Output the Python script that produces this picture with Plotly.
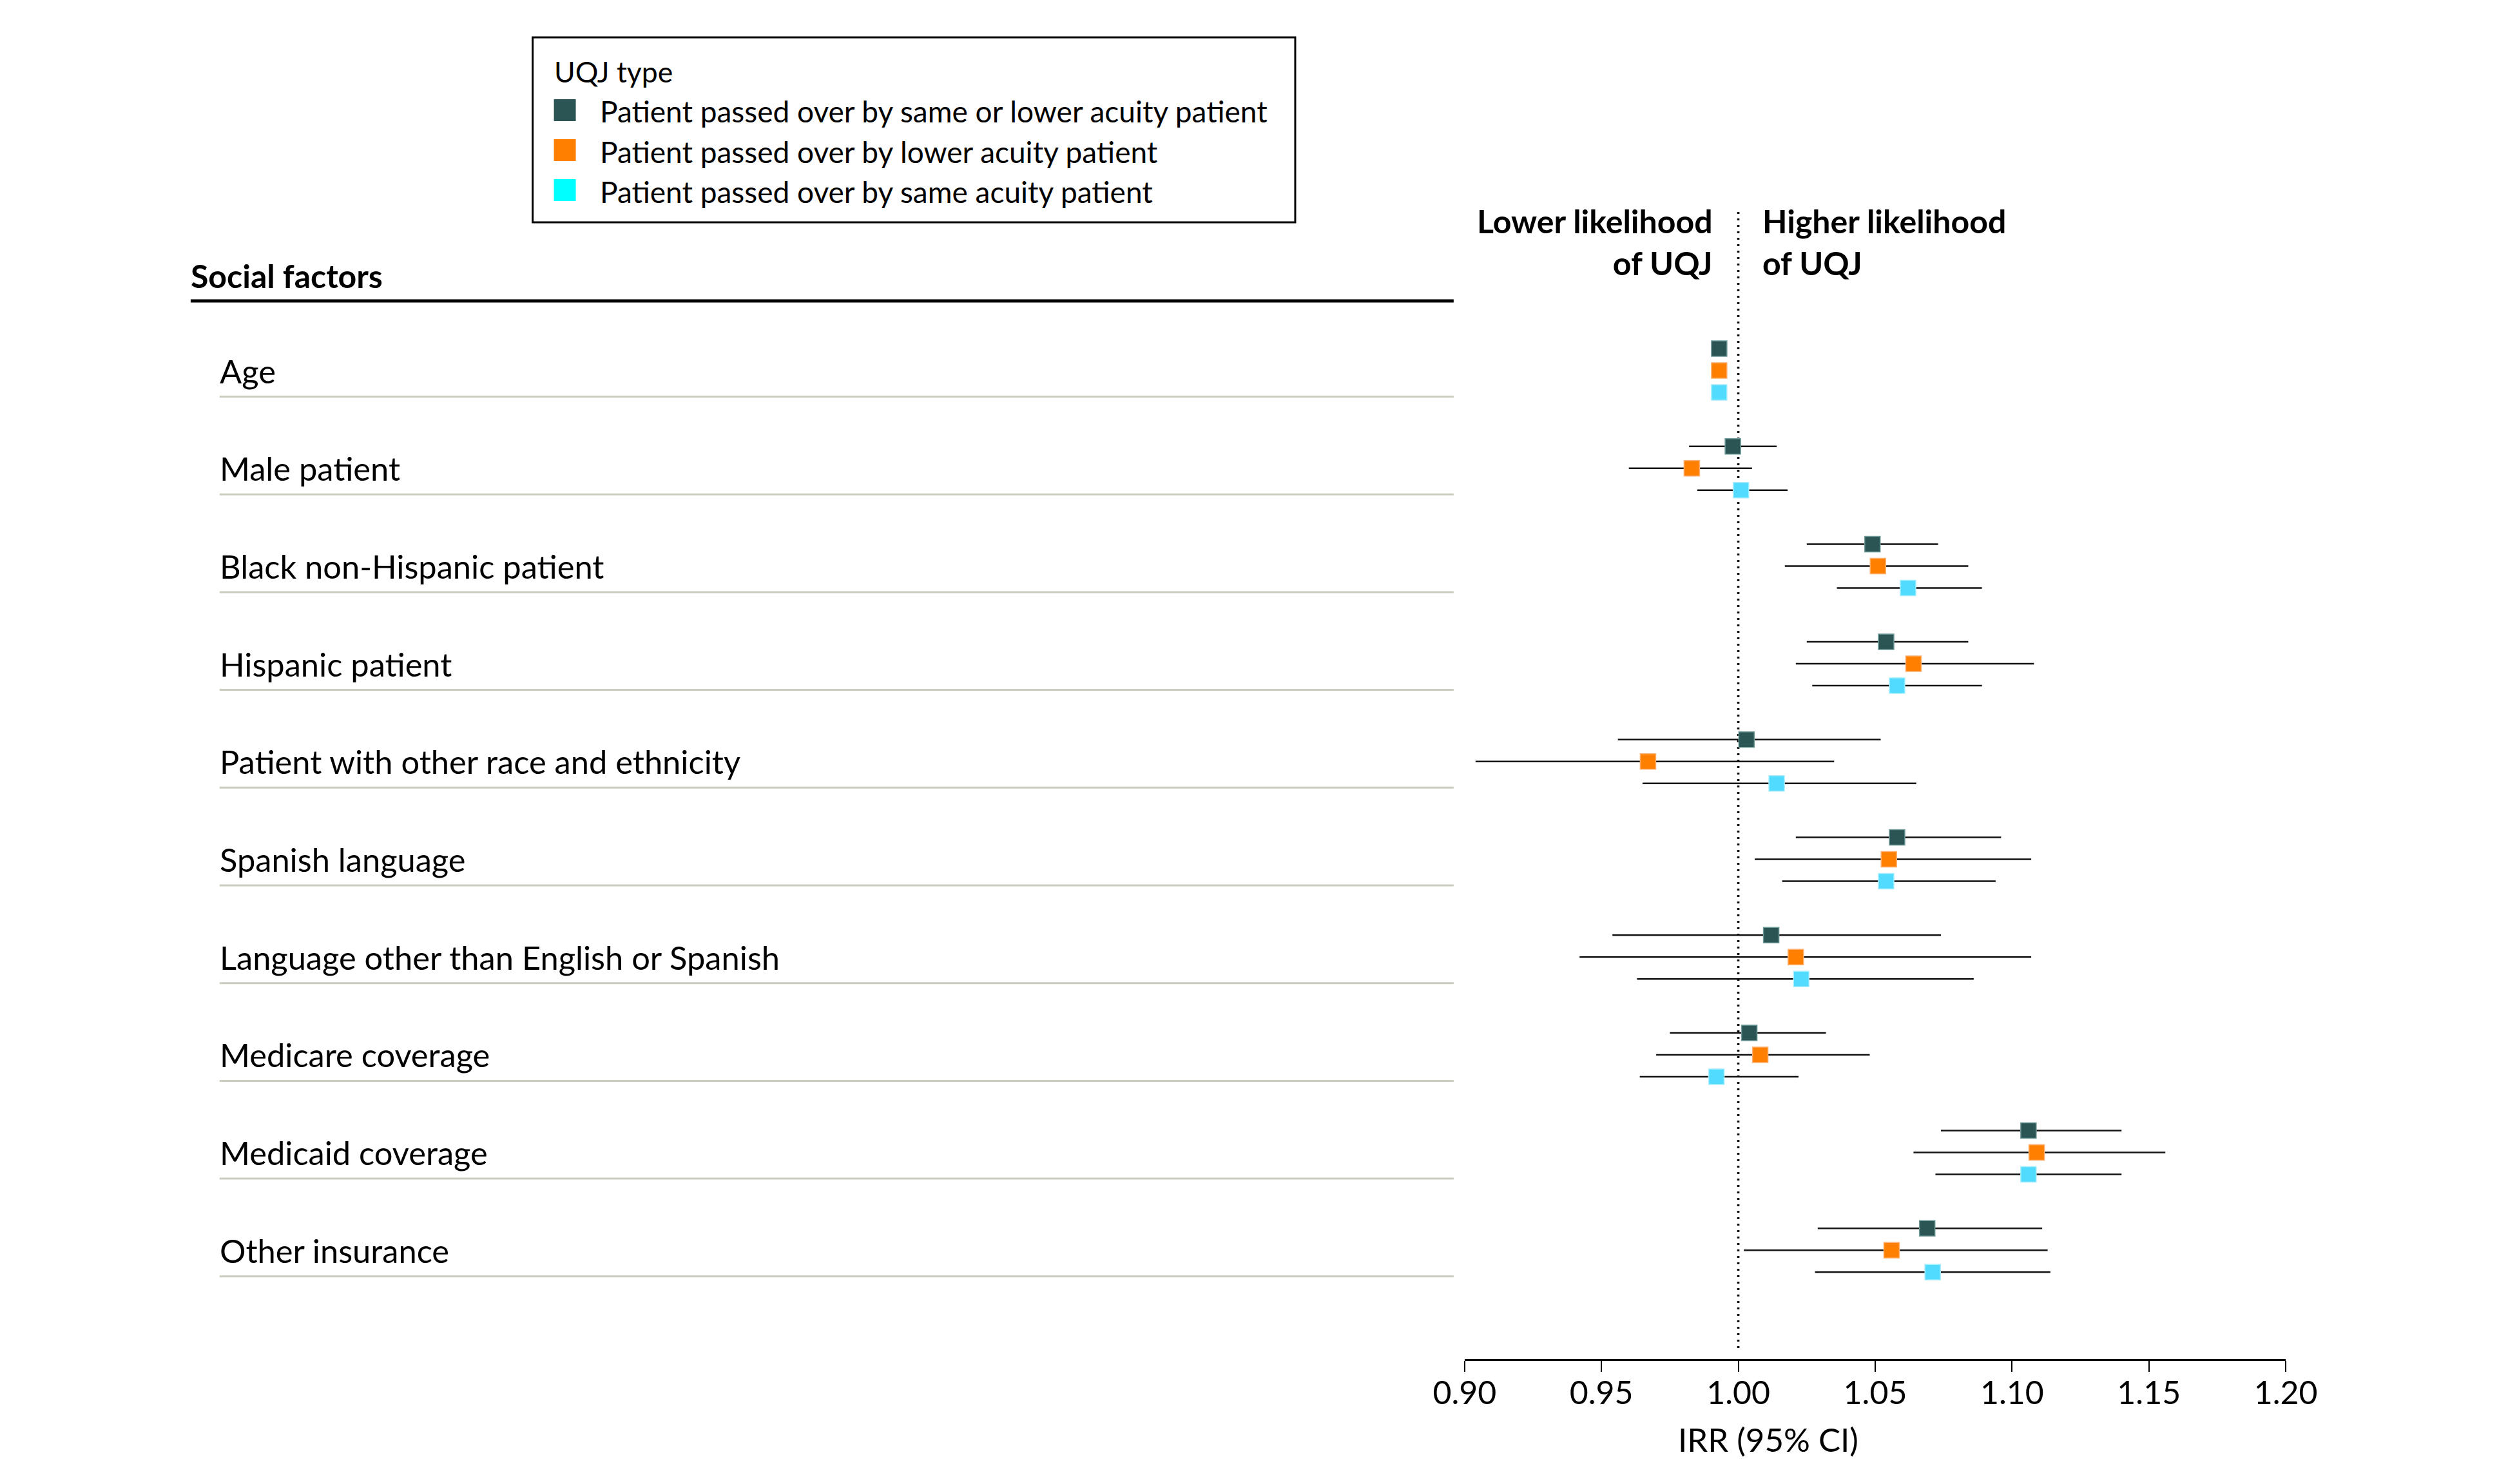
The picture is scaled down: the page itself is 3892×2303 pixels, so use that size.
import plotly.graph_objects as go

# ---------------- data ----------------
factors = [
    "Age",
    "Male patient",
    "Black non-Hispanic patient",
    "Hispanic patient",
    "Patient with other race and ethnicity",
    "Spanish language",
    "Language other than English or Spanish",
    "Medicare coverage",
    "Medicaid coverage",
    "Other insurance",
]

series_names = [
    "Patient passed over by same or lower acuity patient",
    "Patient passed over by lower acuity patient",
    "Patient passed over by same acuity patient",
]

same_or_lower_irr = [0.993, 0.998, 1.049, 1.054, 1.003, 1.058, 1.012, 1.004, 1.106, 1.069]
same_or_lower_lo = [0.992, 0.982, 1.025, 1.025, 0.956, 1.021, 0.954, 0.975, 1.074, 1.029]
same_or_lower_hi = [0.994, 1.014, 1.073, 1.084, 1.052, 1.096, 1.074, 1.032, 1.140, 1.111]

lower_irr = [0.993, 0.983, 1.051, 1.064, 0.967, 1.055, 1.021, 1.008, 1.109, 1.056]
lower_lo = [0.992, 0.960, 1.017, 1.021, 0.904, 1.006, 0.942, 0.970, 1.064, 1.002]
lower_hi = [0.994, 1.005, 1.084, 1.108, 1.035, 1.107, 1.107, 1.048, 1.156, 1.113]

same_irr = [0.993, 1.001, 1.062, 1.058, 1.014, 1.054, 1.023, 0.992, 1.106, 1.071]
same_lo = [0.992, 0.985, 1.036, 1.027, 0.965, 1.016, 0.963, 0.964, 1.072, 1.028]
same_hi = [0.994, 1.018, 1.089, 1.089, 1.065, 1.094, 1.086, 1.022, 1.140, 1.114]

tick_vals = [0.90, 0.95, 1.00, 1.05, 1.10, 1.15, 1.20]
tick_text = ["0.90", "0.95", "1.00", "1.05", "1.10", "1.15", "1.20"]

# ---------------- style ----------------
W, H = 3892, 2303
FONT = "Lato"
marker_colors = ["#2B5554", "#FF8000", "#50DBFF"]
marker_edges = ["#6E9A98", "#FFB070", "#A8EEFF"]
legend_colors = ["#2B5554", "#FF8000", "#00FFFF"]
offsets = [-0.224, 0.0, 0.224]

# observed horizontal placement of the paper area in the rendered page
PAPER_X0, PAPER_W = 48.0, 3796.0


def px_x(p):
    return (p - PAPER_X0) / PAPER_W


def px_y(p):
    return 1 - p / H


row_px0 = 575.0
row_step = 151.7
y_bottom_px, y_top_px = 2109.0, 323.0
y_range = [(y_bottom_px - row_px0) / row_step, (y_top_px - row_px0) / row_step]

fig = go.Figure()

all_series = [
    (same_or_lower_irr, same_or_lower_lo, same_or_lower_hi),
    (lower_irr, lower_lo, lower_hi),
    (same_irr, same_lo, same_hi),
]

for k, (irr, lo, hi) in enumerate(all_series):
    ys = [i + offsets[k] for i in range(len(factors))]
    fig.add_trace(
        go.Scatter(
            x=irr,
            y=ys,
            mode="markers",
            name=series_names[k],
            showlegend=False,
            marker=dict(
                symbol="square",
                size=24,
                color=marker_colors[k],
                line=dict(color=marker_edges[k], width=1.5),
            ),
            error_x=dict(
                type="data",
                symmetric=False,
                array=[h - v for h, v in zip(hi, irr)],
                arrayminus=[v - l for v, l in zip(irr, lo)],
                color="#111111",
                thickness=2.5,
                width=0,
            ),
            customdata=[[f, l, h] for f, l, h in zip(factors, lo, hi)],
            hovertemplate="%{customdata[0]}<br>IRR %{x:.3f} (%{customdata[1]:.3f}-%{customdata[2]:.3f})<extra>"
            + series_names[k]
            + "</extra>",
        )
    )

shapes = []
annotations = []

# reference line at IRR = 1
shapes.append(
    dict(
        type="line",
        xref="x",
        yref="paper",
        x0=1.0,
        x1=1.0,
        y0=px_y(2092),
        y1=px_y(323),
        line=dict(color="#000000", width=3.5, dash="3px,7px"),
        layer="below",
    )
)

# header
annotations.append(
    dict(
        text="<b>Social factors</b>",
        xref="paper",
        yref="paper",
        x=px_x(293),
        y=px_y(428),
        xanchor="left",
        yanchor="middle",
        showarrow=False,
        font=dict(family=FONT, size=50, color="#000000"),
    )
)
shapes.append(
    dict(
        type="line",
        xref="paper",
        yref="paper",
        x0=px_x(295),
        x1=px_x(2256),
        y0=px_y(467),
        y1=px_y(467),
        line=dict(color="#000000", width=5),
    )
)

# row labels and separators
for i, f in enumerate(factors):
    annotations.append(
        dict(
            text=f,
            xref="paper",
            yref="y",
            x=px_x(338),
            y=i,
            xanchor="left",
            yanchor="middle",
            showarrow=False,
            font=dict(family=FONT, size=50.6, color="#000000"),
        )
    )
    shapes.append(
        dict(
            type="line",
            xref="paper",
            yref="y",
            x0=px_x(340),
            x1=px_x(2256),
            y0=i + 0.267,
            y1=i + 0.267,
            line=dict(color="#C9CCBF", width=3),
        )
    )

# direction labels
annotations.append(
    dict(
        text="<b>Lower likelihood</b><br><b>of UQJ</b>",
        xref="paper",
        yref="paper",
        x=px_x(2660),
        y=px_y(376),
        xanchor="right",
        yanchor="middle",
        align="right",
        showarrow=False,
        font=dict(family=FONT, size=50, color="#000000"),
    )
)
annotations.append(
    dict(
        text="<b>Higher likelihood</b><br><b>of UQJ</b>",
        xref="paper",
        yref="paper",
        x=px_x(2733),
        y=px_y(376),
        xanchor="left",
        yanchor="middle",
        align="left",
        showarrow=False,
        font=dict(family=FONT, size=50, color="#000000"),
    )
)

# x axis title
annotations.append(
    dict(
        text="IRR (95% CI)",
        xref="paper",
        yref="paper",
        x=px_x(2744),
        y=px_y(2233),
        xanchor="center",
        yanchor="middle",
        showarrow=False,
        font=dict(family=FONT, size=51, color="#000000"),
    )
)

# legend box (drawn manually)
shapes.append(
    dict(
        type="rect",
        xref="paper",
        yref="paper",
        x0=px_x(826),
        x1=px_x(2010),
        y0=px_y(345),
        y1=px_y(58),
        line=dict(color="#000000", width=3),
        fillcolor="rgba(0,0,0,0)",
    )
)
annotations.append(
    dict(
        text="UQJ type",
        xref="paper",
        yref="paper",
        x=px_x(857),
        y=px_y(110),
        xanchor="left",
        yanchor="middle",
        showarrow=False,
        font=dict(family=FONT, size=44.5, color="#000000"),
    )
)
legend_centers = [171, 233, 295]
for k, name in enumerate(series_names):
    cy = legend_centers[k]
    shapes.append(
        dict(
            type="rect",
            xref="paper",
            yref="paper",
            x0=px_x(859),
            x1=px_x(893),
            y0=px_y(cy + 17),
            y1=px_y(cy - 17),
            line=dict(width=0),
            fillcolor=legend_colors[k],
        )
    )
    annotations.append(
        dict(
            text=name,
            xref="paper",
            yref="paper",
            x=px_x(928),
            y=px_y(cy + 2),
            xanchor="left",
            yanchor="middle",
            showarrow=False,
            font=dict(family=FONT, size=46, color="#000000"),
        )
    )

fig.update_layout(
    width=W,
    height=H,
    autosize=False,
    margin=dict(l=0, r=0, t=0, b=0, pad=0),
    paper_bgcolor="white",
    plot_bgcolor="white",
    showlegend=False,
    shapes=shapes,
    annotations=annotations,
    font=dict(family=FONT, color="#000000"),
    xaxis=dict(
        domain=[px_x(2273), px_x(3548)],
        range=[0.9, 1.2],
        tickvals=tick_vals,
        ticktext=tick_text,
        showgrid=False,
        zeroline=False,
        showline=True,
        linecolor="#000000",
        linewidth=3,
        ticks="outside",
        ticklen=17,
        tickwidth=2,
        tickcolor="#000000",
        ticklabelstandoff=-10,
        tickfont=dict(family=FONT, size=50, color="#000000"),
        anchor="y",
        fixedrange=True,
    ),
    yaxis=dict(
        domain=[px_y(y_bottom_px), px_y(y_top_px)],
        range=y_range,
        visible=False,
        showgrid=False,
        zeroline=False,
        fixedrange=True,
    ),
)

fig.write_html(
    "out.html",
    config={"displayModeBar": False},
    post_script="document.body.style.margin='0';document.body.style.overflow='hidden';",
)
